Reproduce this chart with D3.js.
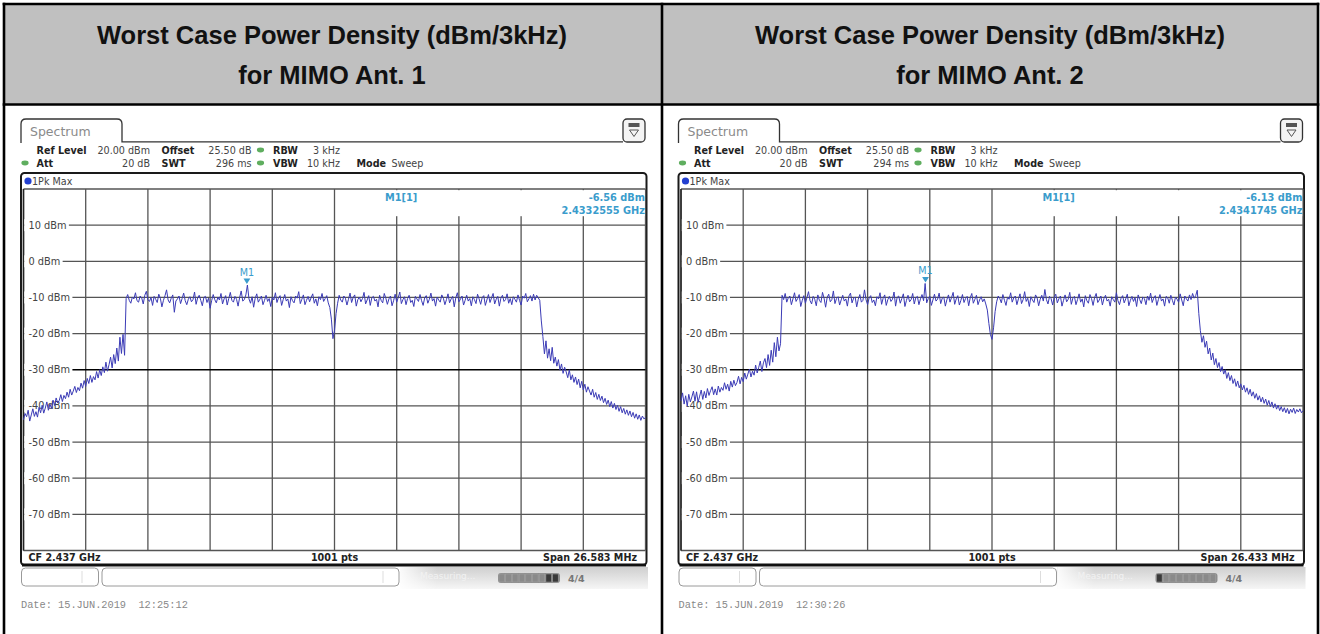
<!DOCTYPE html>
<html><head><meta charset="utf-8">
<script src="https://cdn.jsdelivr.net/npm/d3@7"></script>
<style>
html,body{margin:0;padding:0;background:#fff;}
svg{display:block;}
</style></head>
<body>
<svg id="chart" width="1320" height="634"></svg>
<script>
// ---------------- data ----------------
const panelTitles = ["Worst Case Power Density (dBm/3kHz)", "Worst Case Power Density (dBm/3kHz)"];
const panelSubtitles = ["for MIMO Ant. 1", "for MIMO Ant. 2"];
const centerFreqMHz = 2437;
const cfLabel = "CF 2.437 GHz";
const pointsLabel = "1001 pts";
const spansMHz = [26.583, 26.433];
const spanLabels = ["Span 26.583 MHz", "Span 26.433 MHz"];
const swtLabels = ["296 ms", "294 ms"];
const markerFreqsMHz = [2433.2555, 2434.1745];
const markerLevels = [-6.56, -6.13];
const markerLevelLabels = ["-6.56 dBm", "-6.13 dBm"];
const markerFreqLabels = ["2.4332555 GHz", "2.4341745 GHz"];
const dateLabels = ["Date: 15.JUN.2019  12:25:12", "Date: 15.JUN.2019  12:30:26"];
const yTickValues = [10, 0, -10, -20, -30, -40, -50, -60, -70];
const yTickLabels = ["10 dBm", "0 dBm", "-10 dBm", "-20 dBm", "-30 dBm", "-40 dBm", "-50 dBm", "-60 dBm", "-70 dBm"];
const refLevelDbm = 20;
const bottomLevelDbm = -80;

// trace levels (dBm), sweep points evenly spread over the span
const ant1Levels = [
-43.8, -42.1, -43.0, -41.2, -44.2, -42.5, -40.8, -42.9, -41.6, -43.1,
-40.4, -41.9, -39.8, -42.0, -40.6, -38.9, -41.2, -39.5, -40.7, -38.4,
-39.9, -37.8, -39.2, -38.5, -36.9, -38.8, -37.1, -38.0, -36.2, -37.6,
-35.4, -37.0, -35.9, -34.6, -36.3, -34.9, -35.8, -33.7, -35.1, -33.0,
-34.6, -32.4, -33.8, -31.6, -33.5, -31.9, -32.8, -30.5, -32.3, -30.0,
-31.6, -29.2, -30.8, -27.9, -30.4, -28.6, -26.5, -29.5, -25.8, -28.3,
-24.0, -27.6, -21.0, -25.5, -20.2, -26.0,
-10.3, -9.2, -10.8, -11.6, -9.9, -10.4, -8.7, -10.9, -11.3, -9.6,
-10.1, -11.8, -9.4, -8.3, -10.6, -11.1, -10.0, -12.2, -9.7, -10.5,
-11.4, -9.1, -10.2, -12.6, -10.8, -9.5, -7.9, -10.7, -11.5, -10.2,
-9.3, -14.1, -11.0, -10.4, -9.6, -11.7, -10.3, -8.8, -10.9, -12.0,
-10.5, -9.8, -11.2, -10.6, -8.5, -11.9, -10.1, -9.4, -10.8, -12.3,
-10.0, -9.7, -11.4, -10.2, -13.0, -10.9, -9.2, -10.6, -11.5, -9.9,
-10.7, -8.9, -11.8, -10.4, -9.5, -12.1, -10.3, -8.6, -10.8, -11.3,
-9.7, -10.5, -12.4, -10.0, -8.2, -11.0, -10.6, -9.3, -6.56, -10.4,
-11.6, -9.8, -12.7, -10.2, -9.0, -11.3, -10.5, -9.6, -12.0, -10.8,
-9.4, -11.1, -10.3, -12.5, -9.9, -10.7, -8.7, -11.4, -10.1, -9.5,
-12.2, -10.6, -9.2, -11.0, -10.4, -12.8, -9.8, -10.9, -11.5, -9.6,
-10.2, -8.4, -11.7, -10.5, -9.3, -12.0, -10.8, -9.7, -11.2, -10.0,
-9.0, -11.6, -10.4, -12.3, -9.8, -10.6, -8.9, -11.1, -10.3, -9.5,
-11.5, -12.8, -16.0, -21.4, -19.2, -14.5, -11.6, -9.4, -10.7, -11.3,
-9.6, -10.2, -12.1, -10.5, -8.8, -11.4, -10.0, -9.3, -12.4, -10.6,
-9.9, -11.2, -10.3, -8.6, -11.8, -10.7, -9.5, -12.2, -10.1, -9.7,
-11.0, -10.5, -12.6, -9.4, -10.8, -11.5, -8.9, -10.2, -11.9, -10.4,
-9.6, -12.3, -10.9, -9.1, -11.3, -10.0, -8.5, -11.7, -10.6, -9.8,
-12.0, -10.3, -9.4, -11.4, -10.8, -12.5, -9.7, -10.4, -11.1, -9.2,
-10.9, -12.2, -10.1, -9.5, -11.6, -10.5, -8.8, -11.0, -10.3, -12.4,
-9.9, -10.7, -11.3, -9.3, -10.2, -12.0, -10.6, -9.0, -11.5, -10.4,
-9.7, -12.6, -10.1, -8.7, -11.2, -10.5, -9.6, -12.1, -10.8, -9.4,
-11.0, -10.3, -12.3, -9.8, -10.6, -11.7, -9.1, -10.4, -11.9, -10.0,
-9.5, -12.2, -10.7, -9.2, -11.4, -10.1, -8.9, -11.8, -10.5, -9.7,
-12.4, -10.2, -9.4, -11.1, -10.6, -9.0, -11.6, -10.3, -12.0, -9.8,
-10.5, -11.3, -9.3, -10.8, -12.1, -9.6, -10.2, -8.9, -11.2, -10.4,
-9.5, -11.0, -9.1, -10.7, -9.4, -10.1,
-10.8, -16.5, -20.8, -25.6, -22.0, -26.8, -24.2, -27.5, -23.8, -28.2,
-26.5, -29.0, -27.2, -30.1, -28.4, -31.0, -29.3, -30.6, -32.2, -30.0,
-32.8, -31.4, -33.5, -32.0, -34.1, -32.6, -35.0, -33.2, -35.6, -34.0,
-36.2, -34.7, -35.9, -37.0, -35.4, -37.6, -36.3, -38.2, -36.8, -38.5,
-37.3, -39.1, -37.9, -39.6, -38.4, -40.2, -38.8, -40.6, -39.3, -41.0,
-39.8, -41.5, -40.2, -41.9, -40.7, -42.3, -41.1, -42.6, -41.4, -43.0,
-41.8, -43.4, -42.2, -43.7, -42.5, -44.0, -42.8, -43.6, -43.2
];
const ant2Levels = [
-38.6, -36.4, -39.5, -37.2, -40.1, -36.8, -38.9, -37.5, -35.9, -38.7,
-36.1, -39.0, -37.3, -35.6, -38.2, -36.0, -37.8, -35.2, -37.1, -35.8,
-34.7, -36.9, -35.3, -37.0, -34.5, -36.2, -34.9, -35.7, -33.6, -35.4,
-34.0, -35.9, -33.2, -34.8, -32.9, -34.4, -33.5, -31.8, -33.9, -32.1,
-33.3, -30.9, -32.6, -31.2, -29.8, -32.0, -30.4, -31.5, -28.7, -30.9,
-29.3, -27.6, -30.5, -28.1, -26.9, -29.4, -25.8, -28.8, -24.6, -27.9,
-22.5, -26.4, -21.0, -24.8, -22.8,
-9.4, -10.6, -8.9, -11.3, -10.1, -9.6, -12.0, -10.4, -8.7, -11.1,
-10.3, -9.2, -12.5, -10.8, -9.5, -11.6, -10.0, -8.4, -10.9, -11.8,
-9.7, -10.5, -12.3, -9.3, -10.8, -11.4, -8.6, -10.2, -12.7, -10.0,
-9.1, -11.2, -10.6, -8.2, -11.7, -10.3, -9.8, -12.1, -10.7, -9.4,
-11.0, -10.4, -12.4, -9.6, -8.8, -11.5, -10.2, -9.9, -12.6, -10.5,
-9.2, -11.3, -10.8, -7.9, -10.6, -12.0, -10.1, -9.5, -11.4, -10.7,
-12.3, -9.8, -10.4, -8.7, -11.9, -10.2, -9.3, -12.2, -10.6, -9.7,
-11.1, -10.5, -8.5, -12.4, -10.0, -9.6, -11.6, -10.3, -9.0, -12.5,
-10.8, -9.4, -11.2, -10.6, -8.9, -11.8, -10.1, -9.7, -12.0, -10.4,
-9.2, -10.9, -6.13, -11.5, -10.3, -9.6, -12.2, -10.7, -9.1, -11.0,
-10.5, -8.8, -11.7, -10.2, -9.9, -12.4, -10.6, -9.3, -11.3, -10.0,
-8.6, -11.9, -10.4, -9.5, -12.1, -10.8, -9.2, -11.4, -10.3, -9.7,
-12.3, -10.1, -8.9, -11.6, -10.5, -9.4, -12.0, -10.7, -9.8, -11.2,
-10.4, -11.8, -13.5, -17.2, -20.3, -21.6, -18.4, -13.9, -11.2, -9.6,
-10.3, -11.5, -9.2, -10.8, -12.2, -9.9, -10.5, -8.7, -11.3, -10.1,
-9.6, -12.0, -10.4, -9.0, -11.7, -10.6, -8.4, -11.1, -10.2, -12.5,
-9.8, -10.7, -11.4, -9.3, -10.1, -12.3, -10.5, -9.4, -11.0, -7.8,
-10.6, -11.8, -9.7, -10.3, -12.1, -10.0, -9.1, -11.5, -10.4, -9.6,
-12.4, -10.8, -9.3, -11.2, -10.5, -8.6, -11.9, -10.2, -9.7, -12.0,
-10.6, -9.0, -11.3, -10.4, -12.6, -9.5, -10.9, -11.6, -9.2, -10.3,
-12.2, -10.0, -8.9, -11.4, -10.7, -9.6, -12.1, -10.3, -9.4, -11.0,
-10.5, -12.4, -9.8, -10.6, -11.3, -8.7, -10.9, -12.0, -10.2, -9.5,
-11.5, -10.4, -9.1, -12.3, -10.8, -9.7, -11.1, -10.0, -12.5, -9.3,
-10.6, -11.7, -9.9, -10.3, -12.0, -9.6, -10.8, -8.8, -11.4, -10.2,
-9.5, -12.2, -10.6, -9.2, -11.0, -10.4, -12.4, -9.7, -10.1, -11.6,
-9.4, -10.8, -12.1, -9.9, -10.5, -11.3, -9.0, -10.7, -12.3, -9.6,
-10.4, -11.0, -9.3, -10.6, -8.9, -10.2, -9.5, -8.0,
-14.5, -19.2, -22.4, -20.6, -23.8, -22.1, -25.6, -24.0, -27.3, -25.4,
-28.6, -26.9, -29.4, -28.0, -30.5, -29.1, -31.2, -30.0, -32.4, -30.8,
-33.0, -31.6, -33.8, -32.5, -34.6, -33.1, -35.0, -33.9, -35.6, -34.3,
-36.2, -35.0, -36.8, -35.4, -37.3, -36.1, -37.9, -36.6, -38.4, -37.2,
-38.9, -37.6, -39.3, -38.1, -39.8, -38.5, -40.2, -38.9, -40.6, -39.4,
-40.9, -39.8, -41.3, -40.2, -41.6, -40.5, -41.9, -40.7, -42.2, -40.9,
-41.8, -40.6, -42.1, -41.0, -41.7, -40.8, -41.9, -41.3
];
const traces = [ant1Levels, ant2Levels];

// ---------------- drawing ----------------
const svg = d3.select("#chart");
const SANS = "'DejaVu Sans', Verdana, sans-serif";
const ARIAL = "'Liberation Sans', Arial, sans-serif";
const MONO = "'Liberation Mono', 'Courier New', monospace";

const defs = svg.append("defs");
const gradBar = defs.append("linearGradient").attr("id","gbar").attr("x1",0).attr("y1",0).attr("x2",0).attr("y2",1);
gradBar.append("stop").attr("offset","0%").attr("stop-color","#cfcfcf");
gradBar.append("stop").attr("offset","100%").attr("stop-color","#f6f6f6");
const gradBarH = defs.append("linearGradient").attr("id","gbarh").attr("x1",0).attr("y1",0).attr("x2",1).attr("y2",0);
gradBarH.append("stop").attr("offset","0%").attr("stop-color","#fff").attr("stop-opacity",0.9);
gradBarH.append("stop").attr("offset","15%").attr("stop-color","#fff").attr("stop-opacity",0);
gradBarH.append("stop").attr("offset","100%").attr("stop-color","#fff").attr("stop-opacity",0);

// table header
svg.append("rect").attr("x",4).attr("y",4).attr("width",1314).attr("height",100).attr("fill","#c0c0c0");
const colCenters = [332, 990];
[0,1].forEach(p => {
  svg.append("text").attr("x", colCenters[p]).attr("y", 44).attr("text-anchor","middle")
    .attr("font-family", ARIAL).attr("font-weight","bold").attr("font-size", 25.5).attr("fill","#111")
    .text(panelTitles[p]);
  svg.append("text").attr("x", colCenters[p]).attr("y", 84).attr("text-anchor","middle")
    .attr("font-family", ARIAL).attr("font-weight","bold").attr("font-size", 25.5).attr("fill","#111")
    .text(panelSubtitles[p]);
});
const borders = svg.append("g").attr("stroke","#000").attr("stroke-width",2.6);
borders.append("line").attr("x1",2.7).attr("x2",1319.3).attr("y1",4).attr("y2",4);
borders.append("line").attr("x1",2.7).attr("x2",1319.3).attr("y1",104.5).attr("y2",104.5);
borders.append("line").attr("x1",4).attr("x2",4).attr("y1",2.7).attr("y2",634);
borders.append("line").attr("x1",662).attr("x2",662).attr("y1",2.7).attr("y2",634);
borders.append("line").attr("x1",1318).attr("x2",1318).attr("y1",2.7).attr("y2",634);

function drawPanel(p) {
  const ox = p * 657.5;
  const g = svg.append("g").attr("transform", `translate(${ox},0)`);
  const span = spansMHz[p];
  const levels = traces[p];
  const gx0 = 23.5, gx1 = 645.5, gy0 = 189, gy1 = 550.5;
  const x = d3.scaleLinear().domain([centerFreqMHz - span/2, centerFreqMHz + span/2]).range([gx0, gx1]);
  const y = d3.scaleLinear().domain([bottomLevelDbm, refLevelDbm]).range([gy1, gy0]);

  // tab "Spectrum"
  g.append("path").attr("d","M21,143 V124 Q21,119 26,119 H117 Q122,119 122,124 V141.8 H623")
    .attr("fill","none").attr("stroke","#333").attr("stroke-width",1.3);
  g.append("text").attr("x",30).attr("y",135.5).attr("font-family",SANS).attr("font-size",12.5)
    .attr("fill","#8a8a8a").text("Spectrum");
  // icon
  g.append("rect").attr("x",623).attr("y",119).attr("width",22).attr("height",23).attr("rx",4)
    .attr("fill","#f4f4f4").attr("stroke","#333").attr("stroke-width",1.3);
  g.append("rect").attr("x",628.5).attr("y",123).attr("width",11).attr("height",4).attr("fill","#555");
  g.append("path").attr("d","M629.5,130 L638.5,130 L634,136.5 Z").attr("fill","none").attr("stroke","#555").attr("stroke-width",1);

  // settings lines
  const r1 = 153.5, r2 = 166.5;
  const bold = (tx, ty, s) => g.append("text").attr("x",tx).attr("y",ty).attr("font-family",SANS)
      .attr("font-weight","bold").attr("font-size",9.6).attr("fill","#222").text(s);
  const val = (tx, ty, s, anchor) => g.append("text").attr("x",tx).attr("y",ty).attr("font-family",SANS)
      .attr("font-size",9.6).attr("fill","#444").attr("text-anchor",anchor||"start").text(s);
  const dot = (cx, cy) => g.append("ellipse").attr("cx",cx).attr("cy",cy).attr("rx",3.6).attr("ry",2.4).attr("fill","#5fae5f");
  bold(36.5, r1, "Ref Level"); val(150, r1, "20.00 dBm", "end");
  bold(161.5, r1, "Offset"); val(251.5, r1, "25.50 dB", "end"); dot(260.5, r1-3.5);
  bold(273, r1, "RBW"); val(340, r1, "3 kHz", "end");
  dot(25, r2-3.5); bold(36.5, r2, "Att"); val(150, r2, "20 dB", "end");
  bold(161.5, r2, "SWT"); val(251.5, r2, swtLabels[p], "end"); dot(260.5, r2-3.5);
  bold(273, r2, "VBW"); val(340, r2, "10 kHz", "end");
  bold(356.5, r2, "Mode"); val(391.5, r2, "Sweep");

  // diagram frame
  g.append("rect").attr("x",21).attr("y",173).attr("width",625.5).attr("height",392).attr("rx",3.5)
    .attr("fill","#fff").attr("stroke","#1a1a1a").attr("stroke-width",2);
  g.append("line").attr("x1",22).attr("x2",646).attr("y1",565).attr("y2",565).attr("stroke","#111").attr("stroke-width",3);
  g.append("circle").attr("cx",28).attr("cy",181).attr("r",3.6).attr("fill","#2340d0");
  g.append("text").attr("x",32).attr("y",184.5).attr("font-family",SANS).attr("font-size",9.6)
    .attr("fill","#444").text("1Pk Max");

  // grid
  const vTicks = d3.range(0, 11).map(k => x.domain()[0] + k * span / 10);
  g.append("g").selectAll("line").data(vTicks).join("line")
    .attr("x1", d => x(d)).attr("x2", d => x(d)).attr("y1", gy0).attr("y2", gy1)
    .attr("stroke","#555").attr("stroke-width",1.3);
  const hTicks = d3.range(bottomLevelDbm, refLevelDbm + 1, 10);
  g.append("g").selectAll("line").data(hTicks).join("line")
    .attr("x1", gx0).attr("x2", gx1).attr("y1", d => y(d)).attr("y2", d => y(d))
    .attr("stroke", d => d === -30 ? "#000" : "#555").attr("stroke-width",1.3);
  g.append("line").attr("x1",gx0).attr("x2",gx0).attr("y1",gy0).attr("y2",gy1).attr("stroke","#222").attr("stroke-width",1.5);

  // marker info box
  g.append("rect").attr("x",340).attr("y",190.2).attr("width",gx1-340-0.8).attr("height",26).attr("fill","#fff");
  const mcol = "#3a9ccc";
  g.append("text").attr("x",385).attr("y",200.5).attr("font-family",SANS).attr("font-weight","bold")
    .attr("font-size",9.8).attr("fill",mcol).text("M1[1]");
  g.append("text").attr("x",gx1-0.5).attr("y",200.5).attr("text-anchor","end").attr("font-family",SANS).attr("font-weight","bold")
    .attr("font-size",9.8).attr("fill",mcol).text(markerLevelLabels[p]);
  g.append("text").attr("x",gx1-0.5).attr("y",213.5).attr("text-anchor","end").attr("font-family",SANS).attr("font-weight","bold")
    .attr("font-size",9.8).attr("fill",mcol).text(markerFreqLabels[p]);

  // y labels
  const lab = g.append("g");
  yTickValues.forEach((v, i) => {
    const t = lab.append("text").attr("x", 28.5).attr("y", y(v)).attr("dy","0.36em")
      .attr("font-family",SANS).attr("font-size",9.8).attr("fill","#444").text(yTickLabels[i]);
    const w = t.node().getComputedTextLength();
    lab.insert("rect", "text").attr("x", gx0 + 0.8).attr("y", y(v) - 6).attr("width", 28.5 - gx0 + w + 1.5)
      .attr("height", 12).attr("fill","#fff");
  });

  // trace
  const n = levels.length;
  const pts = levels.map((v, i) => [centerFreqMHz - span/2 + i * span / (n - 1), v]);
  g.append("path").datum(pts)
    .attr("d", d3.line().x(d => x(d[0])).y(d => y(d[1])))
    .attr("fill","none").attr("stroke","#3b3bb6").attr("stroke-width",1).attr("stroke-linejoin","round");

  // marker
  const mx = x(markerFreqsMHz[p]), my = y(markerLevels[p]);
  g.append("path").attr("d", `M${mx-3.4},${my-6.5} L${mx+3.4},${my-6.5} L${mx},${my-1} Z`).attr("fill", mcol);
  g.append("text").attr("x", mx).attr("y", my-9.5).attr("text-anchor","middle").attr("font-family",SANS)
    .attr("font-size",9.6).attr("fill",mcol).text("M1");

  // footer
  g.append("text").attr("x",28.5).attr("y",561).attr("font-family",SANS).attr("font-weight","bold")
    .attr("font-size",9.6).attr("fill","#222").text(cfLabel);
  g.append("text").attr("x",(gx0+gx1)/2).attr("y",561).attr("text-anchor","middle").attr("font-family",SANS).attr("font-weight","bold")
    .attr("font-size",9.6).attr("fill","#222").text(pointsLabel);
  g.append("text").attr("x",637).attr("y",561).attr("text-anchor","end").attr("font-family",SANS).attr("font-weight","bold")
    .attr("font-size",9.6).attr("fill","#222").text(spanLabels[p]);

  // status bar
  g.append("rect").attr("x",400).attr("y",567).attr("width",248).attr("height",22).attr("fill","url(#gbar)");
  g.append("rect").attr("x",400).attr("y",567).attr("width",248).attr("height",22).attr("fill","url(#gbarh)");
  g.append("text").attr("x",420).attr("y",579).attr("font-family",SANS).attr("font-size",9).attr("fill","#f2f2f2").text("Measuring...");
  const segs = d3.range(0, 9);
  const darkSeg = p === 0 ? [7, 8] : [0];
  g.append("rect").attr("x",498).attr("y",573).attr("width",62).attr("height",10).attr("rx",3).attr("fill","#8d8d8d");
  g.append("g").selectAll("rect").data(segs).join("rect")
    .attr("x", d => 499 + d * 6.7).attr("y",574).attr("width",5.6).attr("height",8)
    .attr("fill", d => darkSeg.includes(d) ? "#3a3a3a" : "#8a8a8a").attr("stroke","#a5a5a5").attr("stroke-width",0.5);
  g.append("text").attr("x",568).attr("y",582).attr("font-family",SANS).attr("font-weight","bold").attr("font-size",9.5)
    .attr("fill","#777").text("4/4");
  g.append("rect").attr("x",21.5).attr("y",568).attr("width",77).attr("height",18).attr("rx",4)
    .attr("fill","#fff").attr("stroke","#9a9a9a").attr("stroke-width",1);
  g.append("line").attr("x1",82).attr("x2",82).attr("y1",571).attr("y2",583).attr("stroke","#ddd");
  g.append("rect").attr("x",102).attr("y",568).attr("width",297).attr("height",18).attr("rx",4)
    .attr("fill","#fff").attr("stroke","#9a9a9a").attr("stroke-width",1);
  g.append("line").attr("x1",383).attr("x2",383).attr("y1",571).attr("y2",583).attr("stroke","#ddd");

  // date
  g.append("text").attr("x",21).attr("y",608).attr("font-family",MONO).attr("font-size",10.3)
    .attr("fill","#888").style("white-space","pre").text(dateLabels[p]);
}
drawPanel(0);
drawPanel(1);
</script>
</body></html>
